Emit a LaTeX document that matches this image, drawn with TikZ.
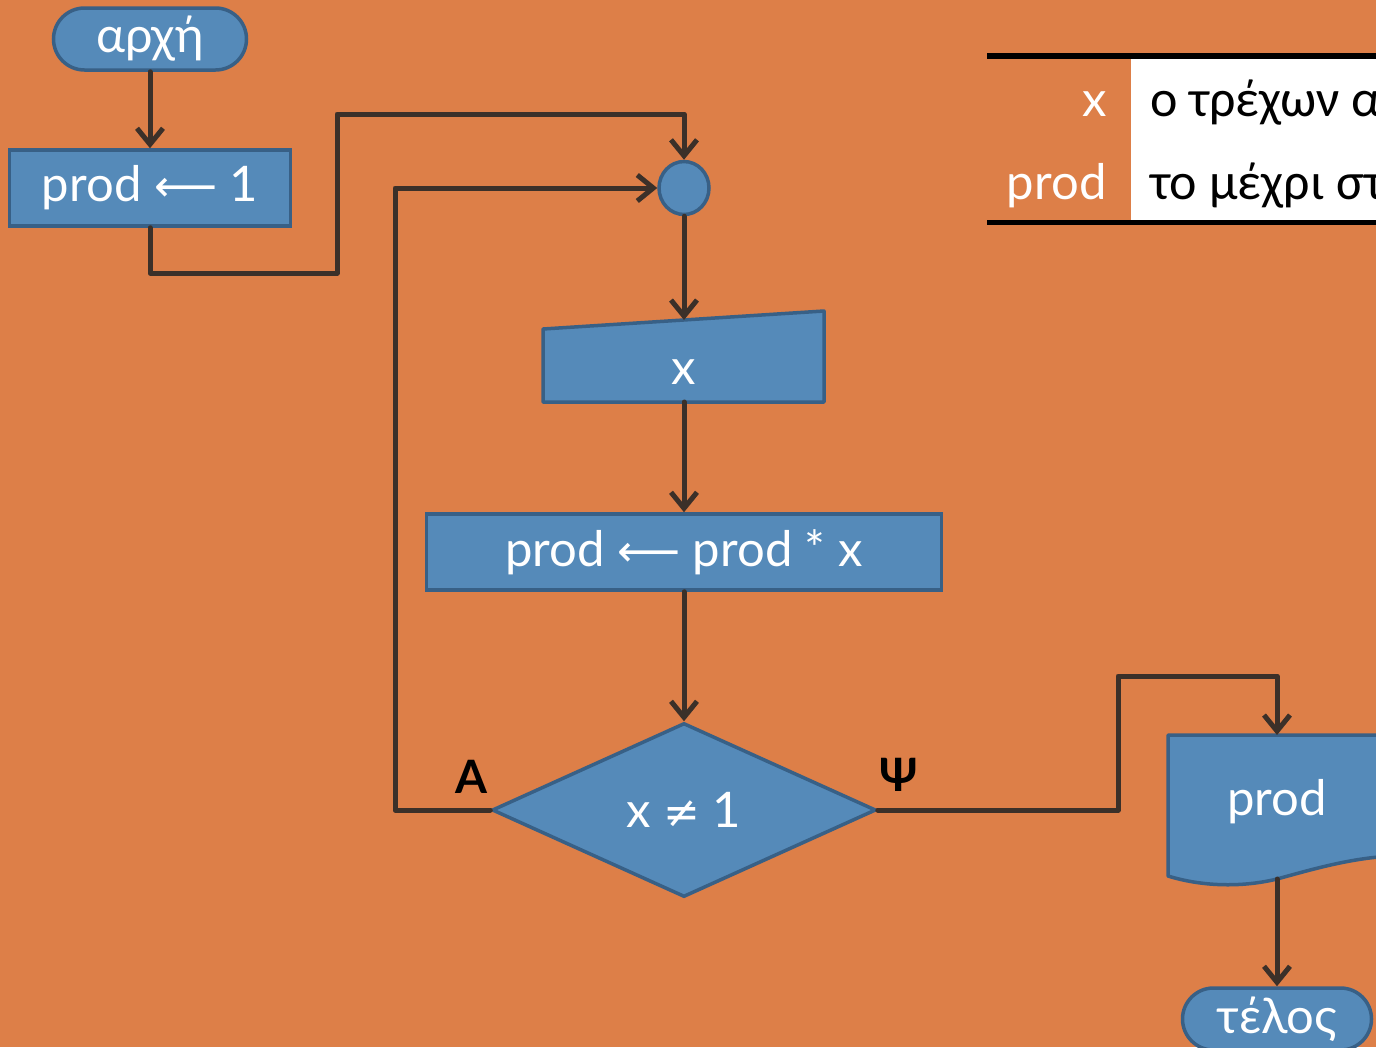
\documentclass[tikz,border=0pt]{standalone}
\usepackage{fontspec}
\setmainfont{Lato}
\newfontfamily\tabfont{Carlito}
\newfontfamily\symfont{DejaVu Sans}
\usetikzlibrary{arrows.meta,shapes.geometric}
\definecolor{bg}{RGB}{221,127,72}
\definecolor{boxfill}{RGB}{85,138,185}
\definecolor{boxline}{RGB}{56,96,134}
\definecolor{conn}{RGB}{59,48,41}
\newcommand{\larr}{{\symfont\fontsize{44}{50}\selectfont ⟵}}
\newcommand{\neqs}{{\symfont\fontsize{44}{50}\selectfont ≠}}
\begin{document}
\begin{tikzpicture}[x=1pt,y=-1pt,
  shapebox/.style={draw=boxline,fill=boxfill,line width=3.5pt,text=white,font=\fontsize{49}{56}\selectfont,inner sep=0pt},
  term/.style={shapebox,rectangle,rounded corners=31pt,minimum height=62pt},
  procbox/.style={shapebox,rectangle,minimum height=76pt},
  flow/.style={draw=conn,line width=5pt,line cap=round,line join=round,-{Straight Barb[length=16pt,width=26pt]}},
  lbl/.style={font=\fontsize{46}{52}\selectfont\bfseries,text=black}
]
\useasboundingbox (0,0) rectangle (1376,1047);
\clip (0,0) rectangle (1376,1047);
\fill[bg] (0,0) rectangle (1376,1047);

% table
\fill[white] (1131,59) rectangle (1380,220);
\draw[black,line width=6pt] (987,56) -- (1380,56);
\draw[black,line width=5pt] (987,222) -- (1380,222);
\node[anchor=base east,text=white,font=\fontsize{49}{56}\selectfont] (tx) at (1110,116) {x};
\node[anchor=base east,text=white,font=\fontsize{49}{56}\selectfont] (tprod) at (1110,199) {prod};
\node[anchor=base west,text=black,font=\tabfont\fontsize{52}{60}\selectfont,inner sep=0pt] (tdx) at (1150,116) {ο τρέχων αριθμός};
\node[anchor=base west,text=black,font=\tabfont\fontsize{52}{60}\selectfont,inner sep=0pt] (tdprod) at (1150,199) {το μέχρι στιγμής γινόμενο};

% nodes
\node[term,minimum width=193pt] (start) at (150,39) {αρχή};
\node[procbox,minimum width=281pt] (init) at (150,188) {\raisebox{-2pt}{prod \larr\ 1}};
\node[shapebox,ellipse,minimum width=50pt,minimum height=53pt] (join) at (684,188) {};

% manual input
\draw[draw=boxline,fill=boxfill,line width=3.5pt,line join=round] (543,329) -- (824,311) -- (824,402) -- (543,402) -- cycle;
\node[text=white,font=\fontsize{49}{56}\selectfont] (inx) at (684,372) {x};
\coordinate (intop) at (684,320);
\coordinate (inbot) at (684,402);

\node[procbox,minimum width=515pt] (upd) at (684,552) {\raisebox{-2pt}{prod \larr\ prod * x}};
\node[shapebox,diamond,minimum width=384pt,minimum height=174pt] (cond) at (684,810) {\raisebox{-7pt}{x \neqs\ 1}};
\node[lbl] (la) at (471,777) {Α};
\node[lbl] (lp) at (899,775) {Ψ};

% document
\draw[draw=boxline,fill=boxfill,line width=3.5pt,line join=round] (1168,735) -- (1392,735) -- (1392,856)
  .. controls (1350,858) and (1310,870) .. (1277,879)
  .. controls (1240,888) and (1200,886) .. (1168,876) -- cycle;
\node[text=white,font=\fontsize{49}{56}\selectfont] (outp) at (1277,802) {prod};
\coordinate (doctop) at (1277,735);
\coordinate (docbot) at (1277,879);

\node[term,minimum width=189pt] (end) at (1277,1019) {τέλος};

% connectors
\draw[flow] (start) -- (init);
\draw[flow] (init.south) |- (337,273) |- (684,114) -- (join.north);
\draw[flow] (cond.west) -- (395,810) |- (join.west);
\draw[flow] (join.south) -- (intop);
\draw[flow] (inbot) -- (upd.north);
\draw[flow] (upd.south) -- (cond.north);
\draw[flow] (cond.east) -- (1118,810) |- (1277,676) -- (doctop);
\draw[flow] (docbot) -- (end.north);
\end{tikzpicture}
\end{document}
